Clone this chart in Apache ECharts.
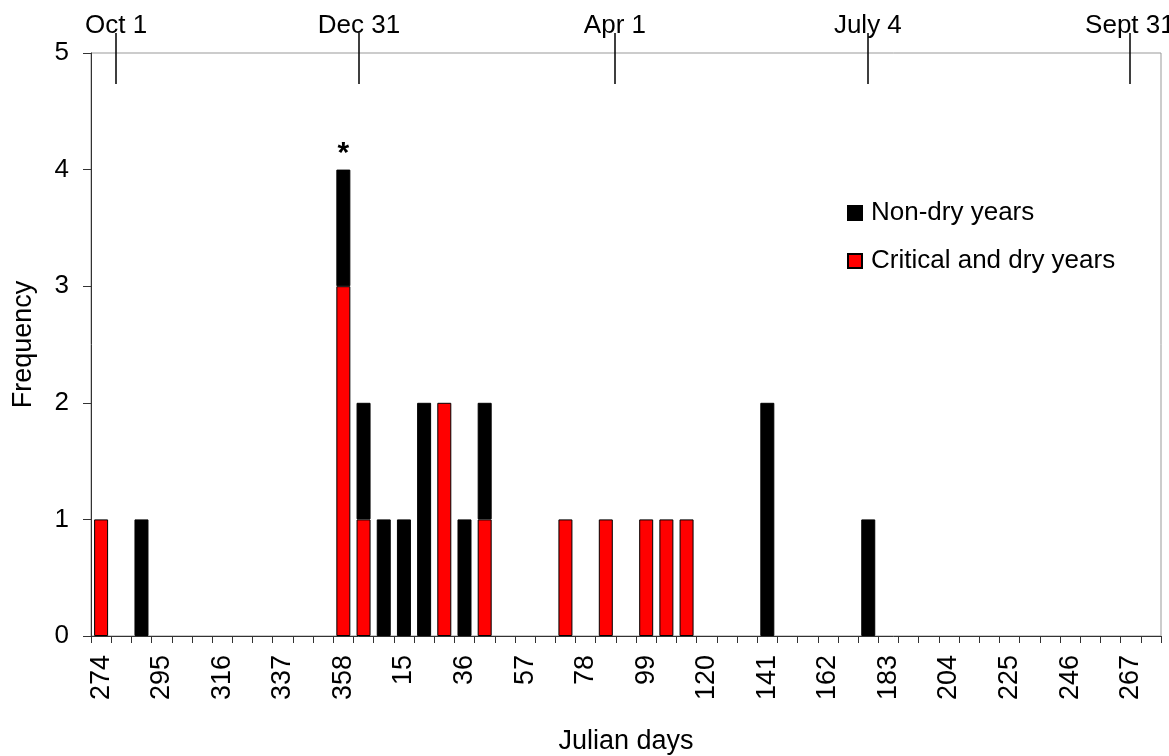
<!DOCTYPE html>
<html>
<head>
<meta charset="utf-8">
<script src="https://cdn.jsdelivr.net/npm/echarts@6/dist/echarts.min.js"></script>
<style>
html,body{margin:0;padding:0;background:#fff;}
#chart{width:1169px;height:756px;}
</style>
</head>
<body>
<div id="chart"></div>
<script>
// Weekly bins of Julian days (Oct 1 -> Sept 30)
const categories = ['274','281','288','295','302','309','316','323','330','337','344','351','358',
  '1','8','15','22','29','36','43','50','57','64','71','78','85','92','99','106','113','120',
  '127','134','141','148','155','162','169','176','183','190','197','204','211','218','225',
  '232','239','246','253','260','267',''];
const nonDryYears = [0,0,1,0,0,0,0,0,0,0,0,0,1,1,1,1,2,0,1,1,0,0,0,0,0,0,0,0,0,0,0,0,0,2,0,0,0,0,1,0,0,0,0,0,0,0,0,0,0,0,0,0,0];
const criticalDryYears = [1,0,0,0,0,0,0,0,0,0,0,0,3,1,0,0,0,2,0,1,0,0,0,1,0,1,0,1,1,1,0,0,0,0,0,0,0,0,0,0,0,0,0,0,0,0,0,0,0,0,0,0,0];
const seriesNames = ['Non-dry years', 'Critical and dry years'];
const yTicks = [0, 1, 2, 3, 4, 5];
// calendar markers on the top axis, positions in bin units from the left edge
const dateMarkLabels = ['Oct 1', 'Dec 31', 'Apr 1', 'July 4', 'Sept 31'];
const dateMarkPositions = [1.24, 13.27, 25.95, 38.48, 51.46];
const starLabel = '*';
const starCategoryIndex = 12;

const FONT = 'Liberation Sans, Arial, sans-serif';
const chart = echarts.init(document.getElementById('chart'));

const toData = arr => arr.map(v => (v === 0 ? null : v));
const nonDryData = toData(nonDryYears).map((v, i) => i === starCategoryIndex ? {
  value: v,
  label: { show: true, position: 'top', formatter: starLabel, fontSize: 30, fontWeight: 'bold', color: '#000', distance: 1, fontFamily: FONT }
} : v);

chart.setOption({
  animation: false,
  backgroundColor: '#fff',
  textStyle: { fontFamily: FONT },
  grid: { left: 91, right: 8, top: 53, bottom: 120, show: true, borderColor: '#999', borderWidth: 1, containLabel: false, outerBoundsMode: 'none' },
  legend: {
    orient: 'vertical', left: 847, top: 200, padding: 0, itemWidth: 14, itemHeight: 14, itemGap: 22,
    icon: 'rect', data: seriesNames,
    textStyle: { fontSize: 26, color: '#000', fontFamily: FONT, padding: [0, 0, 0, 4] }
  },
  xAxis: [{
    type: 'category', data: categories, boundaryGap: true,
    axisLine: { lineStyle: { color: '#333', width: 1 } },
    axisTick: { show: true, interval: 0, length: 7, lineStyle: { color: '#333' } },
    axisLabel: { interval: 2, rotate: 90, fontSize: 27, color: '#000', margin: 19, fontFamily: FONT },
    name: 'Julian days', nameLocation: 'middle', nameGap: 92,
    nameTextStyle: { fontSize: 27, color: '#000', fontFamily: FONT }
  }, {
    type: 'value', position: 'top', min: 0, max: 53, offset: -31,
    axisLine: { show: false },
    splitLine: { show: false },
    axisTick: { show: true, customValues: dateMarkPositions, length: 51, lineStyle: { color: '#000', width: 1.5 } },
    axisLabel: {
      customValues: dateMarkPositions, margin: 45, fontSize: 26, color: '#000', fontFamily: FONT,
      formatter: v => dateMarkLabels[dateMarkPositions.indexOf(v)]
    }
  }],
  yAxis: {
    type: 'value', min: yTicks[0], max: yTicks[yTicks.length - 1], interval: 1,
    axisLine: { show: true, lineStyle: { color: '#333' } },
    axisTick: { show: true, length: 8, lineStyle: { color: '#333' } },
    splitLine: { show: false },
    axisLabel: { fontSize: 26, color: '#000', margin: 22, fontFamily: FONT },
    name: 'Frequency', nameLocation: 'middle', nameGap: 54,
    nameTextStyle: { fontSize: 27, color: '#000', fontFamily: FONT }
  },
  series: [{
    name: seriesNames[1], type: 'bar', stack: 'f', xAxisIndex: 0, barWidth: 14,
    itemStyle: { color: '#ff0000', borderColor: '#000', borderWidth: 1 },
    data: toData(criticalDryYears)
  }, {
    name: seriesNames[0], type: 'bar', stack: 'f', xAxisIndex: 0, barWidth: 14,
    itemStyle: { color: '#000000', borderColor: '#000', borderWidth: 1 },
    data: nonDryData
  }]
});
</script>
</body>
</html>
